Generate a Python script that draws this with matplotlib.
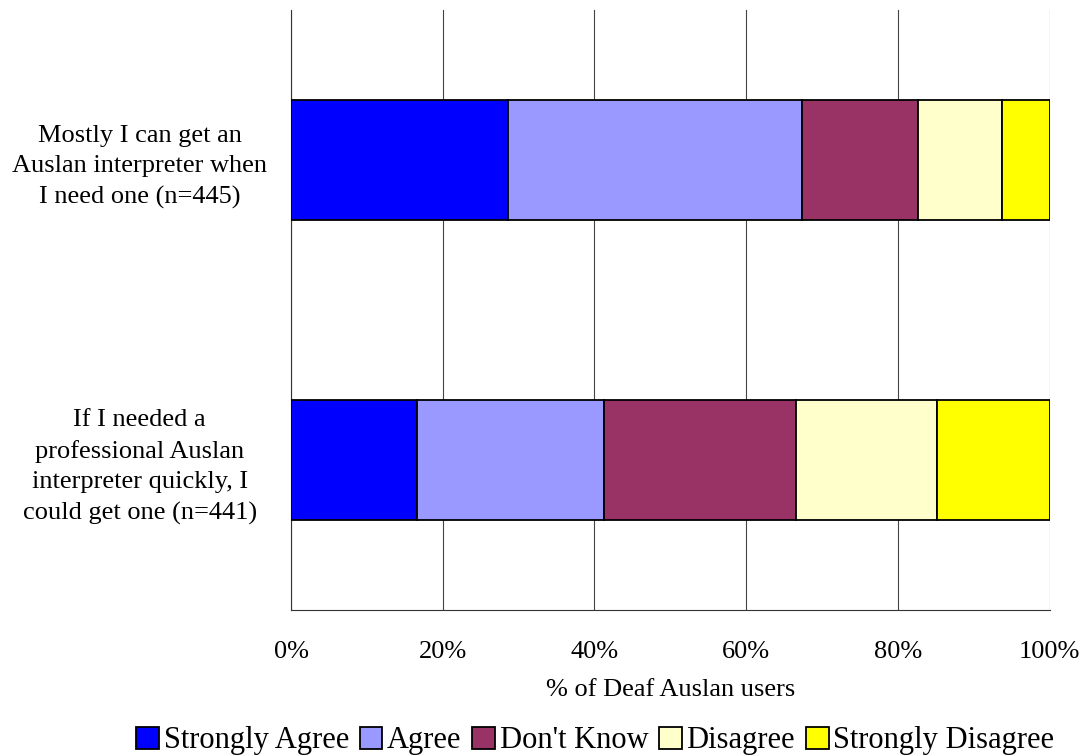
import matplotlib.pyplot as plt
from matplotlib.ticker import PercentFormatter

plt.rcParams['font.family'] = ['Liberation Serif', 'DejaVu Serif']

questions = [
    "Mostly I can get an\nAuslan interpreter when\nI need one (n=445)",
    "If I needed a\nprofessional Auslan\ninterpreter quickly, I\ncould get one (n=441)",
]
responses = ["Strongly Agree", "Agree", "Don't Know", "Disagree", "Strongly Disagree"]
colors = ["#0000FF", "#9999FF", "#993366", "#FFFFCC", "#FFFF00"]

strongly_agree = [28.6, 16.6]
agree = [38.7, 24.7]
dont_know = [15.4, 25.3]
disagree = [11.0, 18.6]
strongly_disagree = [6.3, 14.8]

series = [strongly_agree, agree, dont_know, disagree, strongly_disagree]

fig = plt.figure(figsize=(10.82, 7.55), dpi=100)
ax = fig.add_axes([0.269, 0.192, 0.701, 0.795])

left = [0.0, 0.0]
ypos = [0, 1]
for name, vals, col in zip(responses, series, colors):
    ax.barh(ypos, vals, left=left, height=0.4, color=col, edgecolor="black",
            linewidth=1.3, label=name, zorder=3)
    left = [a + b for a, b in zip(left, vals)]

ax.set_xlim(0, 100)
ax.set_ylim(1.5, -0.5)
ax.set_xticks([0, 20, 40, 60, 80, 100])
ax.xaxis.set_major_formatter(PercentFormatter(decimals=0))
ax.set_yticks(ypos)
ax.set_yticklabels(questions, fontsize=19, ha="center", linespacing=1.5)
ax.tick_params(axis="y", length=0, pad=109)
ax.tick_params(axis="x", length=0, pad=22, labelsize=19)
ax.set_xlabel("% of Deaf Auslan users", fontsize=19, labelpad=12)

ax.grid(axis="x", color="#444444", linewidth=0.8, zorder=0)
for s in ["top", "right"]:
    ax.spines[s].set_visible(False)
ax.spines["left"].set_color("#333333")
ax.spines["bottom"].set_color("#333333")

fig.legend(loc="lower center", bbox_to_anchor=(0.55, -0.037), ncol=5, frameon=False,
           fontsize=22, handlelength=0.75, handleheight=0.75, handletextpad=0.15,
           columnspacing=0.35)

fig.savefig("out.png")
